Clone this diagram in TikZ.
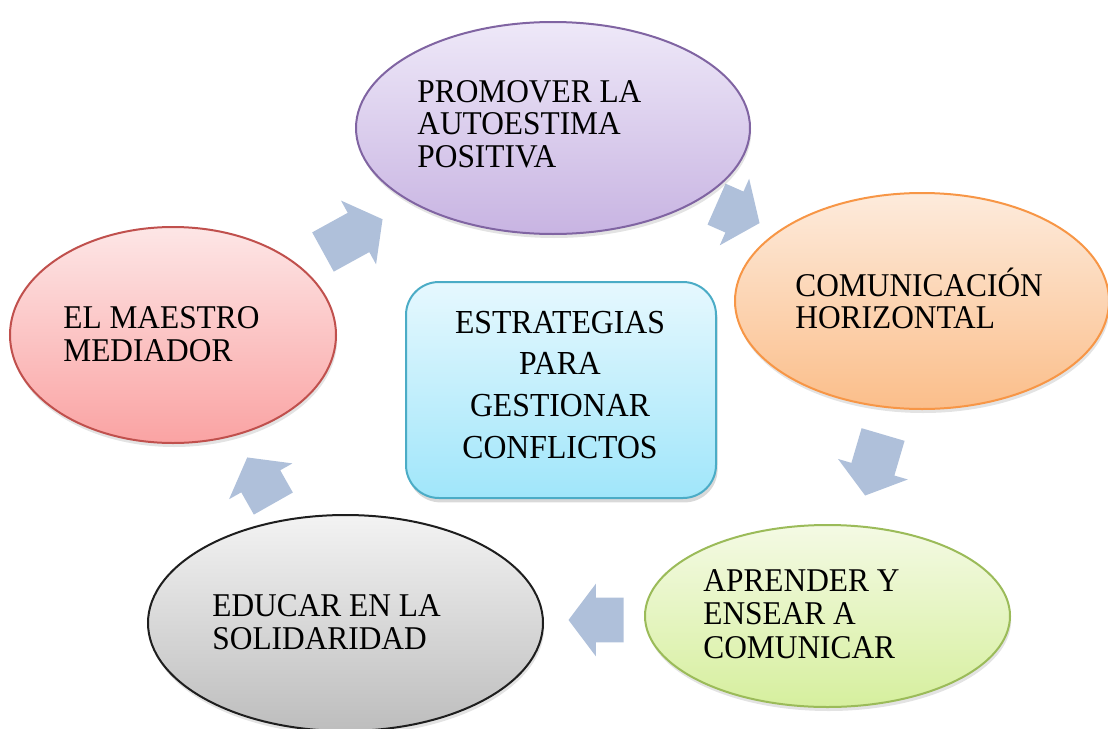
\documentclass[tikz,border=0pt]{standalone}
\usepackage{fontspec}
\setmainfont{Liberation Serif}
\newfontfamily\dfont[FakeStretch=0.945]{Liberation Serif}
\usetikzlibrary{shapes.geometric,shapes.arrows,shadows}
\definecolor{arrowblue}{HTML}{AFC0DA}
\definecolor{purpB}{HTML}{8064A2}
\definecolor{purpT}{HTML}{EEE8F8}
\definecolor{purpD}{HTML}{C8B4E2}
\definecolor{oranB}{HTML}{F79646}
\definecolor{oranT}{HTML}{FDEBDC}
\definecolor{oranD}{HTML}{FBBE8A}
\definecolor{redB}{HTML}{C0504D}
\definecolor{redT}{HTML}{FDE6E6}
\definecolor{redD}{HTML}{FAA3A3}
\definecolor{grayB}{HTML}{1E1E1E}
\definecolor{grayT}{HTML}{F3F3F3}
\definecolor{grayD}{HTML}{BDBDBD}
\definecolor{greenB}{HTML}{9BBB59}
\definecolor{greenT}{HTML}{F4FAE4}
\definecolor{greenD}{HTML}{D6EF9E}
\definecolor{boxB}{HTML}{4BACC6}
\definecolor{boxT}{HTML}{E6F8FE}
\definecolor{boxD}{HTML}{A0E6FA}
\begin{document}
\begin{tikzpicture}[x=0.5pt,y=-0.5pt,
  oval/.style={ellipse, line width=1pt, inner sep=0pt,
    drop shadow={opacity=0.22, shadow xshift=0.6pt, shadow yshift=-2pt}},
  lbl/.style={anchor=base west, align=left, inner sep=0pt,
    font=\dfont\fontsize{16.6}{16.2}\selectfont},
  barrow/.style={single arrow, fill=arrowblue, draw=none, inner xsep=0pt, inner ysep=11pt,
    minimum width=36pt, single arrow head extend=7pt, single arrow tip angle=106, anchor=tip}
]
\useasboundingbox (0,0) rectangle (1108,728);

% block arrows (placed by their tips)
\node[barrow, minimum height=34pt, rotate=28.8] (a1) at (383,219) {};
\node[barrow, minimum height=23.5pt, rotate=-23.8] (a2) at (760,223.3) {};
\node[barrow, minimum height=31.8pt, rotate=-106.4] (a3) at (865,496) {};
\node[barrow, minimum height=27.5pt, rotate=180] (a4) at (568,620) {};
\node[barrow, minimum height=26.5pt, rotate=119.5] (a5) at (247,457) {};

% ovals
\node[oval, draw=purpB, top color=purpT, bottom color=purpD,
  minimum width=197pt, minimum height=106pt] (promover) at (553,128) {};
\node[oval, draw=oranB, top color=oranT, bottom color=oranD,
  minimum width=187pt, minimum height=108pt] (comunic) at (922,301) {};
\node[oval, draw=redB, top color=redT, bottom color=redD,
  minimum width=163pt, minimum height=108pt] (maestro) at (173,335) {};
\node[oval, draw=grayB, top color=grayT, bottom color=grayD,
  minimum width=197.5pt, minimum height=108pt] (educar) at (345.5,623) {};
\node[oval, draw=greenB, top color=greenT, bottom color=greenD,
  minimum width=182.5pt, minimum height=91pt] (aprender) at (827.5,616) {};

% centre box
\node[rectangle, rounded corners=16.5pt, line width=1pt, draw=boxB,
  top color=boxT, bottom color=boxD, minimum width=155pt, minimum height=108pt,
  drop shadow={opacity=0.3, shadow xshift=0.8pt, shadow yshift=-2.2pt}] (centro) at (561,390) {};

% labels (anchored at the baseline of the last line)
\node[lbl] (promover-t) at (417,167) {PROMOVER LA\\AUTOESTIMA\\POSITIVA};
\node[lbl] (comunic-t) at (795,328.5) {COMUNICACIÓN\\HORIZONTAL};
\node[lbl] (maestro-t) at (63,361) {EL MAESTRO\\MEDIADOR};
\node[lbl] (educar-t) at (212,649) {EDUCAR EN LA\\SOLIDARIDAD};
\node[lbl, font=\dfont\fontsize{16.6}{16.6}\selectfont] (aprender-t) at (703,658) {APRENDER Y\\ENSEAR A\\COMUNICAR};
\node[anchor=base, align=center, inner sep=0pt, font=\dfont\fontsize{16.8}{20.8}\selectfont]
  (centro-t) at (560,458) {ESTRATEGIAS\\PARA\\GESTIONAR\\CONFLICTOS};
\end{tikzpicture}
\end{document}
